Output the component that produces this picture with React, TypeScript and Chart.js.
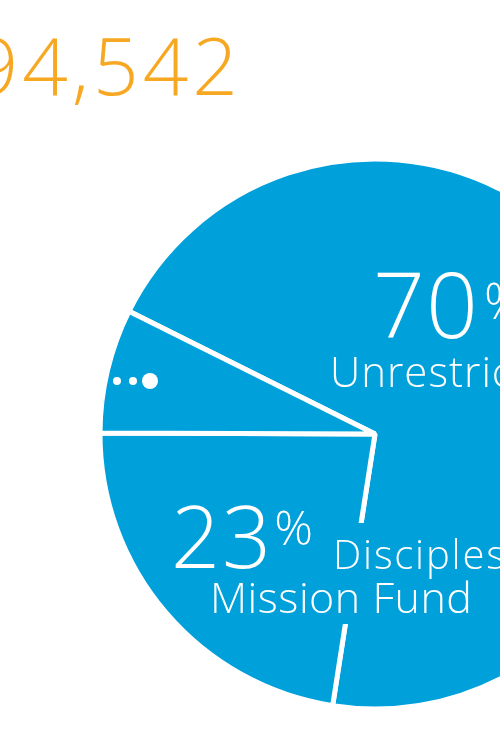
import React, { useEffect, useRef } from "react";
import { Chart, registerables } from "chart.js";

Chart.register(...registerables);

// ---- data ----
const categories = ["Unrestricted", "Disciples Mission Fund", "Other"];
const shares = [70.1, 22.6, 7.3];
const totalLabel = "$1,094,542";
const sliceColors = ["#00A0DB", "#00A0DB", "#00A0DB"];

const FONT = '"Open Sans", "Noto Sans", sans-serif';
const ORANGE = "#F7A823";

function spacing(ctx: any, px: number) {
  if ("letterSpacing" in ctx) ctx.letterSpacing = `${px}px`;
}

const labelPlugin = {
  id: "sliceLabels",
  afterDatasetsDraw(chart: any) {
    const ctx = chart.ctx as CanvasRenderingContext2D;
    const arc = chart.getDatasetMeta(0).data[0] as any;
    const cx = arc.x;
    const cy = arc.y;
    ctx.save();
    // background block behind the Disciples label (interrupts divider)
    ctx.fillStyle = sliceColors[1];
    ctx.fillRect(cx - 75, cy + 89, 120, 101);

    ctx.fillStyle = "#ffffff";
    ctx.textBaseline = "alphabetic";
    ctx.textAlign = "left";

    // 70% Unrestricted
    const p0 = String(Math.round(shares[0]));
    spacing(ctx, 1);
    ctx.font = `300 91px ${FONT}`;
    ctx.fillText(p0, cx - 2, cy - 96);
    const w0 = ctx.measureText(p0).width;
    ctx.font = `300 50px ${FONT}`;
    ctx.fillText("%", cx + w0 + 3, cy - 115);
    spacing(ctx, 1);
    ctx.font = `300 42px ${FONT}`;
    ctx.fillText(categories[0], cx - 45, cy - 47);

    // 23% Disciples Mission Fund
    const p1 = String(Math.round(shares[1]));
    spacing(ctx, 2);
    ctx.font = `300 86px ${FONT}`;
    ctx.fillText(p1, cx - 204, cy + 134);
    const w1 = ctx.measureText(p1).width;
    spacing(ctx, 0);
    ctx.font = `300 48px ${FONT}`;
    ctx.fillText("%", cx - 204 + w1 + 1, cy + 111);
    const [l1, l2] = ["Disciples", "Mission Fund"];
    spacing(ctx, 1.8);
    ctx.font = `300 40px ${FONT}`;
    ctx.fillText(l1, cx - 42, cy + 135);
    spacing(ctx, 0.5);
    ctx.font = `300 43px ${FONT}`;
    ctx.fillText(l2, cx - 165, cy + 179);
    spacing(ctx, 0);

    // "..." marker for the small slice
    ctx.beginPath();
    ctx.arc(cx - 258, cy - 53, 4, 0, Math.PI * 2);
    ctx.arc(cx - 242, cy - 53, 4, 0, Math.PI * 2);
    ctx.fill();
    ctx.beginPath();
    ctx.arc(cx - 225, cy - 53, 8, 0, Math.PI * 2);
    ctx.fill();

    ctx.restore();
  },
  afterDraw(chart: any) {
    const ctx = chart.ctx as CanvasRenderingContext2D;
    ctx.save();
    ctx.fillStyle = ORANGE;
    ctx.font = `300 80px ${FONT}`;
    spacing(ctx, 4);
    ctx.textAlign = "right";
    ctx.textBaseline = "alphabetic";
    ctx.fillText(totalLabel, 242, 95);
    ctx.restore();
  },
};

export default function App() {
  const ref = useRef<HTMLCanvasElement | null>(null);
  useEffect(() => {
    if (!ref.current) return;
    const chart = new Chart(ref.current, {
      type: "pie",
      data: {
        labels: categories,
        datasets: [
          {
            data: shares,
            backgroundColor: sliceColors,
            borderColor: "#ffffff",
            borderWidth: 5,
            radius: 275,
          } as any,
        ],
      },
      options: {
        animation: false,
        responsive: false,
        devicePixelRatio: 1,
        rotation: -63.5,
        layout: { padding: { left: 250, top: 127, right: 0, bottom: 0 } },
        plugins: {
          legend: { display: false },
          tooltip: { enabled: false },
          title: { display: false },
        },
      },
      plugins: [labelPlugin],
    });
    return () => chart.destroy();
  }, []);
  return (
    <div
      style={{
        position: "fixed",
        left: 0,
        top: 0,
        width: 500,
        height: 741,
        overflow: "hidden",
        background: "#ffffff",
      }}
    >
      <canvas ref={ref} width={500} height={741} style={{ display: "block" }} />
    </div>
  );
}
